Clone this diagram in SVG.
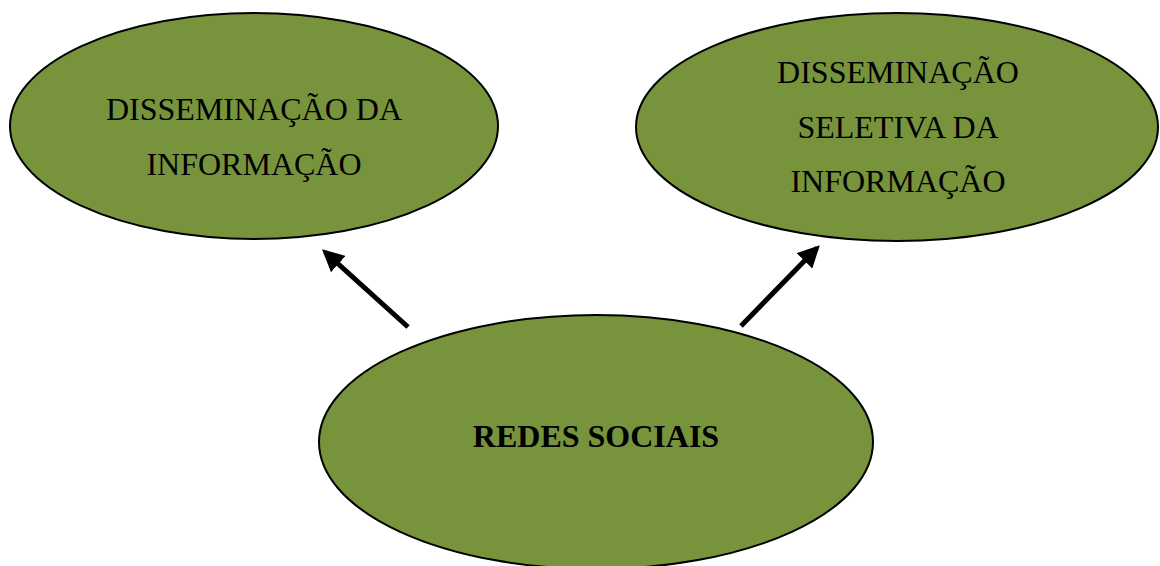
<svg xmlns="http://www.w3.org/2000/svg" width="1160" height="566" viewBox="0 0 1160 566">
<style>
.node{fill:#77933C;stroke:#000;stroke-width:2}
.t{font-family:"Liberation Serif","Times New Roman",serif;font-size:32px;fill:#000;text-anchor:middle}
.b{font-weight:bold;font-size:32px}
.c{stroke:#000;stroke-width:5;fill:none;marker-end:url(#ah)}
</style>
<defs>
<marker id="ah" markerWidth="4.4" markerHeight="4.4" refX="3.6" refY="2.2" orient="auto" markerUnits="strokeWidth" viewBox="0 0 4.4 4.4">
<path d="M0,0 L4.4,2.2 L0,4.4 Z" fill="#000"/>
</marker>
</defs>
<rect width="1160" height="566" fill="#fff"/>
<g id="connectors">
<line class="c" x1="408" y1="327" x2="325" y2="252"/>
<line class="c" x1="741" y1="326" x2="817" y2="248"/>
</g>
<g id="n1">
<ellipse class="node" cx="254" cy="126" rx="244" ry="113"/>
<text class="t" x="254" y="120">DISSEMINAÇÃO DA</text>
<text class="t" x="254" y="175">INFORMAÇÃO</text>
</g>
<g id="n2">
<ellipse class="node" cx="897" cy="127" rx="261" ry="114"/>
<text class="t" x="898" y="83">DISSEMINAÇÃO</text>
<text class="t" x="898" y="138">SELETIVA DA</text>
<text class="t" x="898" y="192">INFORMAÇÃO</text>
</g>
<g id="n3">
<ellipse class="node" cx="596" cy="442" rx="277" ry="127"/>
<text class="t b" x="596" y="447">REDES SOCIAIS</text>
</g>
</svg>
